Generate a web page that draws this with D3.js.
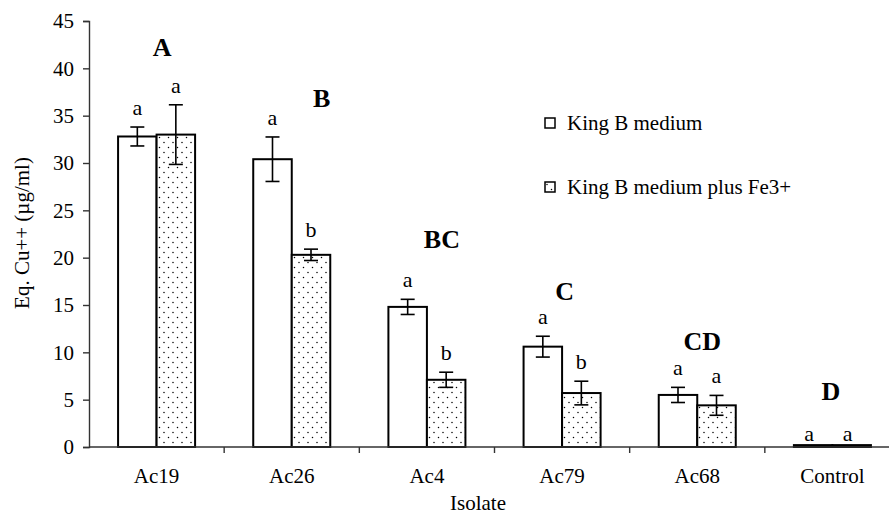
<!DOCTYPE html>
<html>
<head>
  <meta charset="utf-8">
  <title>Isolates</title>
  <style>
    body {margin: 0; background: #fff;}
    svg  {font-family: "Liberation Serif", "Times New Roman", serif;}
  </style>
</head>
<body>
  <script src="https://cdn.jsdelivr.net/npm/d3@7/dist/d3.min.js"></script>
  <svg width="889" height="516"></svg>
  <script>

    // data
    var isolates  = ["Ac19", "Ac26", "Ac4", "Ac79", "Ac68", "Control"];
    var seriesNames = ["King B medium", "King B medium plus Fe3+"];
    var kingB      = [32.8, 30.4, 14.8, 10.6, 5.5, 0.2];
    var kingBErr   = [1.0, 2.35, 0.8, 1.1, 0.8, 0];
    var kingBFe    = [33.0, 20.3, 7.1, 5.7, 4.4, 0.2];
    var kingBFeErr = [3.15, 0.6, 0.8, 1.25, 1.05, 0];
    var kingBLetters   = ["a", "a", "a", "a", "a", "a"];
    var kingBFeLetters = ["a", "b", "b", "b", "a", "a"];
    var groupLetters = ["A", "B", "BC", "C", "CD", "D"];
    var groupLetterY = [41.3, 35.9, 21.0, 15.5, 10.2, 5.0];
    var yTicks = [0, 5, 10, 15, 20, 25, 30, 35, 40, 45];

    var svg = d3.select("svg");
    var mLeft = 89, mRight = 900, mTop = 21, mBottom = 447;

    var x = d3.scaleBand().domain(isolates).range([mLeft, mRight]);
    var inner = d3.scaleBand().domain([0, 1]).range([0, x.bandwidth()])
      .paddingInner(0).paddingOuter(0.755);
    var y = d3.scaleLinear().domain([0, 45]).range([mBottom, mTop]);

    // dotted fill
    var pat = svg.append("defs").append("pattern")
      .attr("id", "dots").attr("patternUnits", "userSpaceOnUse")
      .attr("width", 9).attr("height", 10);
    pat.append("rect").attr("width", 9).attr("height", 10).attr("fill", "#fff");
    pat.append("circle").attr("cx", 2).attr("cy", 2.5).attr("r", 0.75).attr("fill", "#000");
    pat.append("circle").attr("cx", 6.5).attr("cy", 7.5).attr("r", 0.75).attr("fill", "#000");

    var rows = isolates.map(function(d, i) {
      return [
        {cat: d, s: 0, v: kingB[i], e: kingBErr[i], l: kingBLetters[i]},
        {cat: d, s: 1, v: kingBFe[i], e: kingBFeErr[i], l: kingBFeLetters[i]}
      ];
    });
    var flat = [].concat.apply([], rows);

    // y axis
    var yAxis = svg.append("g").attr("transform", "translate(" + mLeft + ",0)")
      .call(d3.axisLeft(y).tickValues(yTicks).tickSize(6).tickPadding(9));
    yAxis.selectAll("text").style("font-size", "21px").attr("fill", "#000")
      .attr("font-family", "Liberation Serif");
    yAxis.selectAll("line, path").attr("stroke", "#333").attr("stroke-width", 1.4);

    // bars
    svg.selectAll("rect.bar").data(flat).enter().append("rect")
      .attr("class", "bar")
      .attr("x", function(d) { return x(d.cat) + inner(d.s); })
      .attr("y", function(d) { return y(d.v); })
      .attr("width", inner.bandwidth())
      .attr("height", function(d) { return mBottom - y(d.v); })
      .attr("fill", function(d) { return d.s ? "url(#dots)" : "#fff"; })
      .attr("stroke", "#000").attr("stroke-width", 2);

    // x axis
    svg.append("line").attr("x1", mLeft).attr("x2", mRight)
      .attr("y1", mBottom).attr("y2", mBottom)
      .attr("stroke", "#333").attr("stroke-width", 1.4);
    svg.selectAll("line.xt").data(isolates.slice(1)).enter().append("line")
      .attr("x1", function(d) { return x(d); }).attr("x2", function(d) { return x(d); })
      .attr("y1", mBottom).attr("y2", mBottom + 6)
      .attr("stroke", "#333").attr("stroke-width", 1.4);
    svg.selectAll("text.xl").data(isolates).enter().append("text")
      .attr("x", function(d) { return x(d) + x.bandwidth() / 2; })
      .attr("y", mBottom + 36)
      .attr("text-anchor", "middle").style("font-size", "21px")
      .text(function(d) { return d; });

    // error bars
    var eb = flat.filter(function(d) { return d.e > 0; });
    var cx = function(d) { return x(d.cat) + inner(d.s) + inner.bandwidth() / 2; };
    var g = svg.append("g").attr("stroke", "#000").attr("stroke-width", 1.6);
    g.selectAll("line.v").data(eb).enter().append("line")
      .attr("x1", cx).attr("x2", cx)
      .attr("y1", function(d) { return y(d.v + d.e); })
      .attr("y2", function(d) { return y(d.v - d.e); });
    [1, -1].forEach(function(sgn) {
      g.selectAll(null).data(eb).enter().append("line")
        .attr("x1", function(d) { return cx(d) - 7; })
        .attr("x2", function(d) { return cx(d) + 7; })
        .attr("y1", function(d) { return y(d.v + sgn * d.e); })
        .attr("y2", function(d) { return y(d.v + sgn * d.e); });
    });

    // significance letters
    svg.selectAll("text.sig").data(flat).enter().append("text")
      .attr("x", function(d) { return cx(d) - (d.e > 0 ? 0 : 4); })
      .attr("y", function(d) { return y(d.v + d.e) - (d.e > 0 ? 12 : 4); })
      .attr("text-anchor", "middle").style("font-size", "22px")
      .text(function(d) { return d.l; });

    var letterDx = [5.5, 30, 15, 2.5, 5, -1.5];
    svg.selectAll("text.grp").data(groupLetters).enter().append("text")
      .attr("x", function(d, i) { return x(isolates[i]) + x.bandwidth() / 2 + letterDx[i]; })
      .attr("y", function(d, i) { return y(groupLetterY[i]); })
      .attr("text-anchor", "middle")
      .style("font-size", "26px").style("font-weight", "bold")
      .text(function(d) { return d; });

    // axis titles
    svg.append("text").attr("transform", "translate(29,233) rotate(-90)")
      .attr("text-anchor", "middle").style("font-size", "21px")
      .text("Eq. Cu++ (µg/ml)");
    svg.append("text").attr("x", 478).attr("y", 510)
      .attr("text-anchor", "middle").style("font-size", "21px")
      .text("Isolate");

    // legend
    var leg = svg.selectAll("g.leg").data(seriesNames).enter().append("g")
      .attr("transform", function(d, i) { return "translate(545," + (118 + i * 64) + ")"; });
    leg.append("rect").attr("width", 10).attr("height", 10)
      .attr("fill", function(d, i) { return i ? "url(#dots)" : "#fff"; })
      .attr("stroke", "#000").attr("stroke-width", 1.5);
    leg.append("text").attr("x", 22).attr("y", 12)
      .style("font-size", "21px")
      .text(function(d) { return d; });

  </script>
</body>
</html>
